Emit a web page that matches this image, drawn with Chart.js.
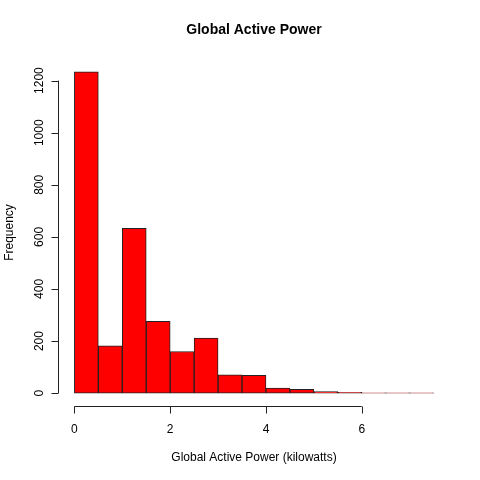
<!DOCTYPE html>
<html>
<head>
<meta charset="utf-8">
<script src="https://cdn.jsdelivr.net/npm/chart.js@4/dist/chart.umd.min.js"></script>
<style>
  html, body { margin: 0; padding: 0; background: #fff; }
  #wrap { width: 480px; height: 480px; }
</style>
</head>
<body>
<div id="wrap"><canvas id="hist"></canvas></div>
<script>
// histogram bins (kilowatts), width 0.5
const binStarts = [0, 0.5, 1, 1.5, 2, 2.5, 3, 3.5, 4, 4.5, 5, 5.5, 6, 6.5, 7];
const counts = [1234, 182, 633, 276, 160, 211, 70, 68, 19, 15, 6, 3, 1, 1, 1];
const xTicks = [0, 2, 4, 6];
const yTicks = [0, 200, 400, 600, 800, 1000, 1200];

const binWidth = 0.5;
const points = binStarts.map((s, i) => ({ x: s + binWidth / 2, y: counts[i] }));

const font = '"Liberation Sans", Arial, Helvetica, sans-serif';

// R style axes, titles
const rAxes = {
  id: 'rAxes',
  afterDraw(chart) {
    const ctx = chart.ctx;
    const xs = chart.scales.x;
    const ys = chart.scales.y;
    const area = chart.chartArea;
    const left = Math.round(area.left) - 1.5;
    const bottom = Math.round(area.bottom) + 0.5;
    const tick = 7;
    ctx.save();
    ctx.strokeStyle = '#222';
    ctx.lineWidth = 1;
    ctx.fillStyle = '#000';
    ctx.font = '12px ' + font;

    // x axis
    ctx.beginPath();
    ctx.moveTo(xs.getPixelForValue(xTicks[0]), bottom);
    ctx.lineTo(xs.getPixelForValue(xTicks[xTicks.length - 1]), bottom);
    xTicks.forEach(v => {
      const px = Math.round(xs.getPixelForValue(v)) + 0.5;
      ctx.moveTo(px, bottom);
      ctx.lineTo(px, bottom + tick);
    });
    ctx.stroke();
    ctx.textAlign = 'center';
    ctx.textBaseline = 'middle';
    xTicks.forEach(v => ctx.fillText(String(v), xs.getPixelForValue(v), 430));

    // y axis
    ctx.beginPath();
    ctx.moveTo(left, ys.getPixelForValue(yTicks[0]));
    ctx.lineTo(left, ys.getPixelForValue(yTicks[yTicks.length - 1]));
    yTicks.forEach(v => {
      const py = Math.round(ys.getPixelForValue(v)) + 0.5;
      ctx.moveTo(left, py);
      ctx.lineTo(left - tick, py);
    });
    ctx.stroke();
    yTicks.forEach(v => {
      ctx.save();
      ctx.translate(40, ys.getPixelForValue(v));
      ctx.rotate(-Math.PI / 2);
      ctx.fillText(String(v), 0, 0);
      ctx.restore();
    });

    // axis titles
    ctx.fillText('Global Active Power (kilowatts)', (area.left + area.right) / 2, 458);
    ctx.save();
    ctx.translate(10, (area.top + area.bottom) / 2);
    ctx.rotate(-Math.PI / 2);
    ctx.fillText('Frequency', 0, 0);
    ctx.restore();

    // main title
    ctx.font = 'bold 14px ' + font;
    ctx.fillText('Global Active Power', (area.left + area.right) / 2, 30);
    ctx.restore();
  }
};

new Chart(document.getElementById('hist'), {
  type: 'bar',
  data: {
    datasets: [{
      data: points,
      backgroundColor: '#FF0000',
      borderColor: '#222',
      borderWidth: 1,
      borderSkipped: false,
      barPercentage: 1,
      categoryPercentage: 1
    }]
  },
  options: {
    responsive: true,
    maintainAspectRatio: false,
    animation: false,
    layout: { padding: { left: 60, right: 32, top: 59, bottom: 74 } },
    plugins: {
      legend: { display: false },
      tooltip: { enabled: false }
    },
    scales: {
      x: { type: 'linear', min: -0.3, max: 7.8, offset: false, display: false },
      y: { min: -49.4, max: 1283, display: false }
    }
  },
  plugins: [rAxes]
});
</script>
</body>
</html>
